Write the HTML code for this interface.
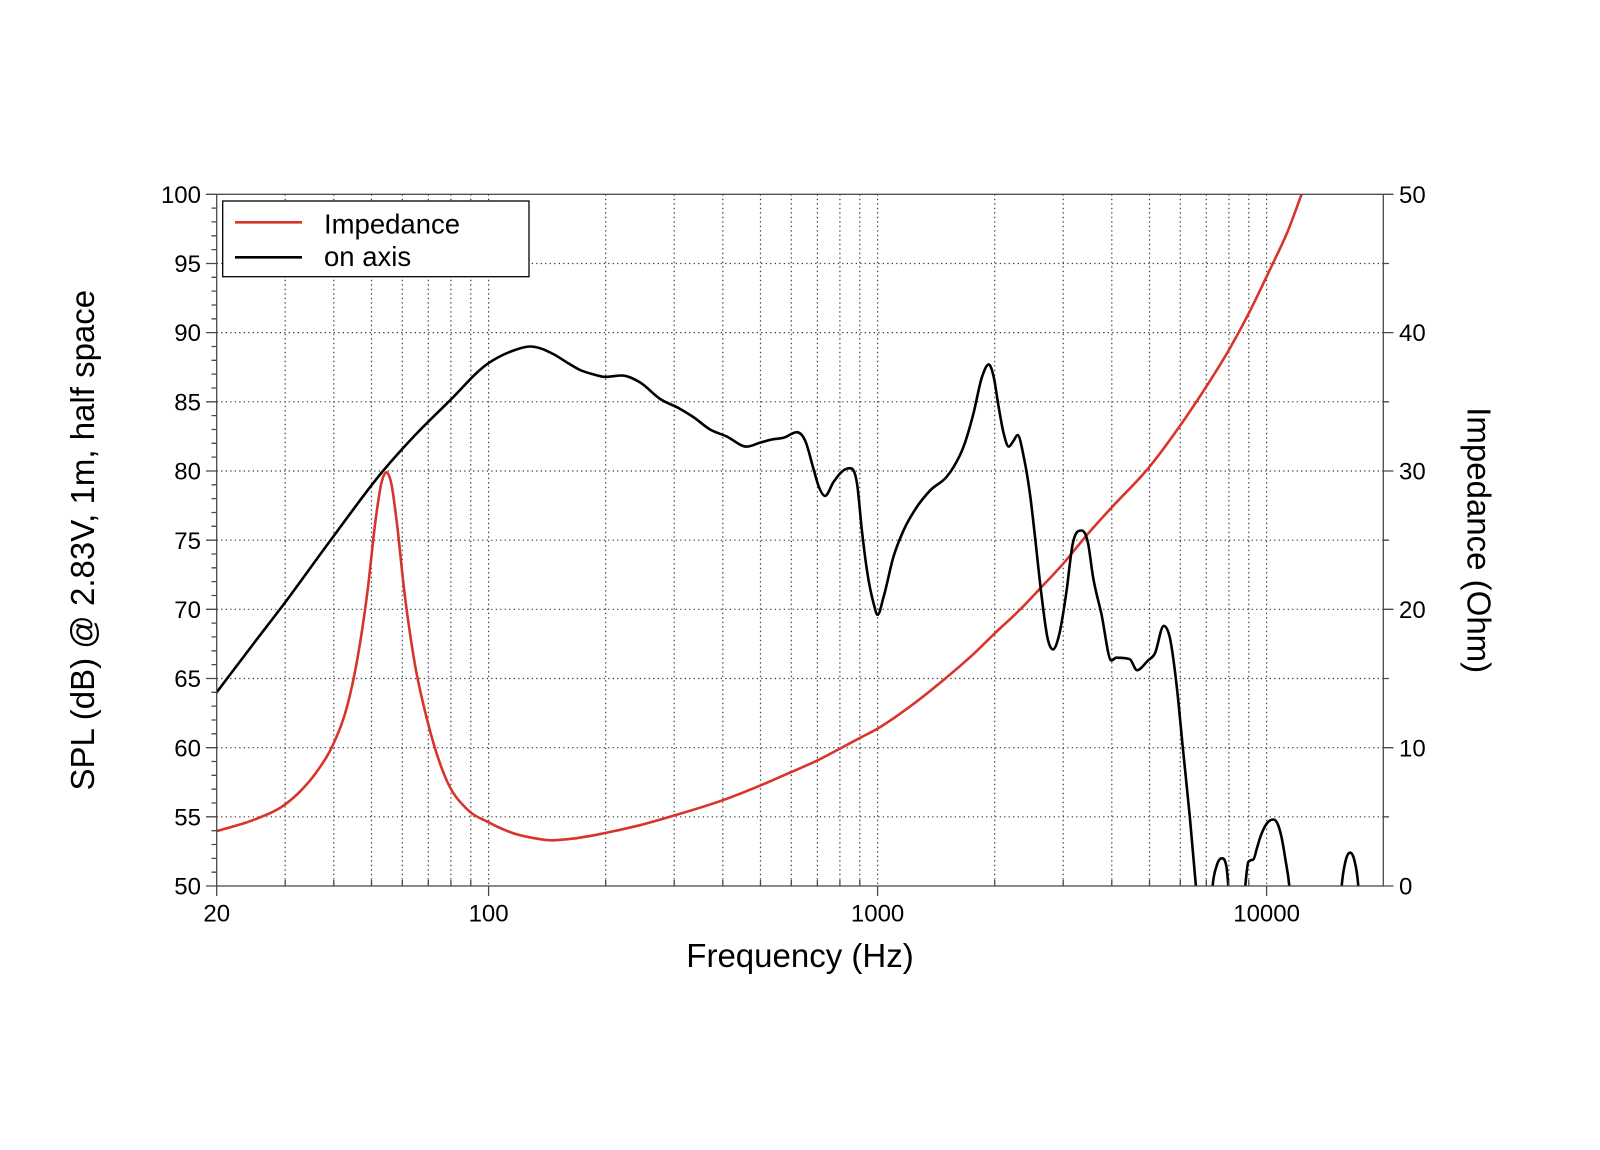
<!DOCTYPE html>
<html>
<head>
<meta charset="utf-8">
<style>
html,body{margin:0;padding:0;background:#fff}
svg{display:block}
text{font-family:"Liberation Sans",Arial,sans-serif;fill:#000}
</style>
</head>
<body>
<svg width="1600" height="1150" viewBox="0 0 1600 1150">
<rect x="0" y="0" width="1600" height="1150" fill="#fff"/>
<defs>
<clipPath id="pc"><rect x="216.7" y="194.3" width="1166.6" height="691.7"/></clipPath>
</defs>

<!-- grid -->
<path fill="none" stroke="#3a3a3a" stroke-width="1.2" stroke-dasharray="1.3 3.2"
d="M285.2 194.3V886M333.8 194.3V886M371.5 194.3V886M402.3 194.3V886M428.3 194.3V886M450.9 194.3V886M470.8 194.3V886M488.6 194.3V886
M605.7 194.3V886M674.2 194.3V886M722.8 194.3V886M760.5 194.3V886M791.3 194.3V886M817.4 194.3V886M839.9 194.3V886M859.8 194.3V886M877.6 194.3V886
M994.7 194.3V886M1063.2 194.3V886M1111.8 194.3V886M1149.5 194.3V886M1180.3 194.3V886M1206.3 194.3V886M1228.9 194.3V886M1248.8 194.3V886M1266.6 194.3V886
M216.7 816.8H1383.3M216.7 747.7H1383.3M216.7 678.5H1383.3M216.7 609.3H1383.3M216.7 540.2H1383.3M216.7 471.0H1383.3M216.7 401.8H1383.3M216.7 332.6H1383.3M216.7 263.5H1383.3"/>

<!-- curves -->
<g clip-path="url(#pc)" fill="none" stroke-width="2.6" stroke-linejoin="round" stroke-linecap="round">
<polyline id="red" stroke="#d9342b" points="216.7,831.1 254.4,819.6 285.2,804.4 301.3,790.2 316.9,771.5 333.8,743.0 347.2,706.1 357.0,661.0 367.7,589.6 375.5,520.7 381.4,483.0 386.4,472.4 391.2,483.0 396.6,520.7 404.0,588.6 414.0,659.1 427.4,720.8 446.9,780.9 466.8,809.0 488.6,822.3 516.6,834.3 535.0,838.3 551.4,840.3 573.2,838.6 605.7,832.9 642.1,824.6 674.2,815.5 722.8,800.2 760.5,785.4 791.3,772.0 817.4,760.4 839.9,748.6 859.8,738.0 877.6,728.6 909.6,706.8 945.3,678.5 974.0,653.6 994.7,633.4 1019.6,610.0 1040.4,588.2 1063.2,563.7 1086.4,535.6 1110.5,508.7 1149.5,466.8 1180.3,425.4 1206.3,386.6 1228.9,350.0 1248.8,313.3 1266.6,276.6 1275.0,259.0 1286.6,234.0 1301.6,194.3 1307.0,180"/>
<path id="redS" stroke="#d9342b" d=""/>
<polyline id="blk" stroke="#000" points="216.7,692.3 254.4,642.5 282.4,606.0 330.4,540.5 383.0,471.0 415.8,434.4 448.6,401.8 488.6,363.1 512.2,351.0 530.2,346.5 553.4,354.1 568.0,363.1 580.1,370.0 592.5,374.1 605.7,376.9 621.6,375.5 640.0,382.4 660.2,399.0 679.8,408.7 693.3,417.0 710.1,429.5 726.6,436.4 746.8,446.6 760.2,442.6 773.5,439.2 783.5,437.8 796.9,432.2 805.1,440.5 813.7,469.6 818.6,486.2 825.1,495.9 833.5,482.0 841.8,471.7 849.6,468.2 857.0,483.4 861.9,530.5 867.0,570.6 873.7,603.8 877.6,614.8 883.6,596.9 893.5,556.6 903.5,530.5 916.9,506.9 930.3,490.3 946.9,476.5 953.7,466.8 963.6,446.6 973.6,412.9 982.0,376.9 988.8,364.4 993.7,376.9 998.6,406.6 1003.7,433.6 1008.7,446.6 1013.7,440.5 1017.6,435.0 1023.8,457.1 1030.4,497.2 1034.6,533.2 1041.2,592.7 1047.9,639.7 1052.9,649.4 1059.6,632.8 1066.3,592.7 1072.9,542.9 1081.3,530.5 1088.0,542.9 1092.9,576.1 1101.3,613.4 1111.4,660.5 1116.3,657.7 1129.7,659.1 1137.0,670.2 1148.0,660.5 1154.8,653.6 1163.7,625.9 1169.7,637.0 1176.4,683.3 1183.1,750.6 1189.8,816.8 1195.9,886 1201.4,955 1206,1000 1209.5,930 1212.6,886 1216.6,866 1221.8,858.3 1226.5,867 1228.3,886 1231,930 1236,1000 1242,930 1245.3,886 1248.3,862 1253.3,859.5 1257,848 1260,838 1266.6,823.7 1273.5,819.5 1278.5,826 1281.7,838 1285.5,860 1289.3,886 1292.5,930 1310,1000 1335,1000 1339,930 1341.7,886 1345,863.5 1350,852.7 1354.3,860 1358.3,886 1361,930 1370,1000 1390,1000"/>
<path id="blkS" stroke="#000" d=""/>
</g>

<!-- frame -->
<rect x="216.7" y="194.3" width="1166.6" height="691.7" fill="none" stroke="#4a4a4a" stroke-width="1.3"/>

<!-- ticks -->
<path fill="none" stroke="#4a4a4a" stroke-width="1.3"
d="M206 886H216.7M206 816.8H216.7M206 747.7H216.7M206 678.5H216.7M206 609.3H216.7M206 540.2H216.7M206 471.0H216.7M206 401.8H216.7M206 332.6H216.7M206 263.5H216.7M206 194.3H216.7
M211.5 872.2H216.7M211.5 858.4H216.7M211.5 844.5H216.7M211.5 830.7H216.7
M211.5 803.0H216.7M211.5 789.2H216.7M211.5 775.3H216.7M211.5 761.5H216.7
M211.5 733.8H216.7M211.5 720.0H216.7M211.5 706.1H216.7M211.5 692.3H216.7
M211.5 664.6H216.7M211.5 650.8H216.7M211.5 636.9H216.7M211.5 623.1H216.7
M211.5 595.5H216.7M211.5 581.6H216.7M211.5 567.8H216.7M211.5 554.0H216.7
M211.5 526.3H216.7M211.5 512.5H216.7M211.5 498.6H216.7M211.5 484.8H216.7
M211.5 457.1H216.7M211.5 443.3H216.7M211.5 429.5H216.7M211.5 415.6H216.7
M211.5 388.0H216.7M211.5 374.1H216.7M211.5 360.3H216.7M211.5 346.5H216.7
M211.5 318.8H216.7M211.5 305.0H216.7M211.5 291.1H216.7M211.5 277.3H216.7
M211.5 249.6H216.7M211.5 235.8H216.7M211.5 221.9H216.7M211.5 208.1H216.7
M1383.3 886H1393.5M1383.3 747.7H1393.5M1383.3 609.3H1393.5M1383.3 471.0H1393.5M1383.3 332.6H1393.5M1383.3 194.3H1393.5
M1383.3 816.8H1389M1383.3 678.5H1389M1383.3 540.2H1389M1383.3 401.8H1389M1383.3 263.5H1389
M216.7 886V896M488.6 886V896M877.6 886V896M1266.6 886V896
M285.2 886V880M333.8 886V880M371.5 886V880M402.3 886V880M428.3 886V880M450.9 886V880M470.8 886V880
M605.7 886V880M674.2 886V880M722.8 886V880M760.5 886V880M791.3 886V880M817.4 886V880M839.9 886V880M859.8 886V880
M994.7 886V880M1063.2 886V880M1111.8 886V880M1149.5 886V880M1180.3 886V880M1206.3 886V880M1228.9 886V880M1248.8 886V880"/>

<!-- left tick labels -->
<g font-size="24" text-anchor="end">
<text x="201" y="202.9">100</text>
<text x="201" y="272.1">95</text>
<text x="201" y="341.2">90</text>
<text x="201" y="410.4">85</text>
<text x="201" y="479.6">80</text>
<text x="201" y="548.8">75</text>
<text x="201" y="617.9">70</text>
<text x="201" y="687.1">65</text>
<text x="201" y="756.3">60</text>
<text x="201" y="825.4">55</text>
<text x="201" y="894.6">50</text>
</g>
<!-- right tick labels -->
<g font-size="24" text-anchor="start">
<text x="1399" y="202.9">50</text>
<text x="1399" y="341.2">40</text>
<text x="1399" y="479.6">30</text>
<text x="1399" y="617.9">20</text>
<text x="1399" y="756.3">10</text>
<text x="1399" y="894.6">0</text>
</g>
<!-- bottom tick labels -->
<g font-size="24" text-anchor="middle">
<text x="216.7" y="921.5">20</text>
<text x="488.6" y="921.5">100</text>
<text x="877.6" y="921.5">1000</text>
<text x="1266.6" y="921.5">10000</text>
</g>

<!-- axis titles -->
<text x="800" y="967" font-size="33" text-anchor="middle">Frequency (Hz)</text>
<text transform="translate(94,540.2) rotate(-90)" font-size="33" text-anchor="middle">SPL (dB) @ 2.83V, 1m, half space</text>
<text transform="translate(1467.3,540.2) rotate(90)" font-size="33" text-anchor="middle">Impedance (Ohm)</text>

<!-- legend -->
<rect x="222.7" y="201" width="306.3" height="75.7" fill="#fff" stroke="#000" stroke-width="1.3"/>
<line x1="235" y1="222.3" x2="302" y2="222.3" stroke="#d9342b" stroke-width="2.6"/>
<line x1="235" y1="257.3" x2="302" y2="257.3" stroke="#000" stroke-width="2.6"/>
<text x="324" y="233.5" font-size="27.5">Impedance</text>
<text x="324" y="266" font-size="27.5">on axis</text>
</svg>
<script>
(function(){
function sm(id){
  var pl=document.getElementById(id);
  var tgt=document.getElementById(id+'S');
  if(!pl||!tgt)return;
  var a=pl.getAttribute('points').trim().split(/\s+/).map(function(s){var p=s.split(',');return [+p[0],+p[1]];});
  var n=a.length,m=[],t=[],i;
  for(i=0;i<n-1;i++)m[i]=(a[i+1][1]-a[i][1])/(a[i+1][0]-a[i][0]);
  t[0]=m[0];t[n-1]=m[n-2];
  for(i=1;i<n-1;i++){
    if(m[i-1]*m[i]<=0){t[i]=0;}
    else{var h0=a[i][0]-a[i-1][0],h1=a[i+1][0]-a[i][0];t[i]=(m[i-1]*h1+m[i]*h0)/(h0+h1);}
  }
  for(i=0;i<n-1;i++){
    if(m[i]===0){t[i]=0;t[i+1]=0;continue;}
    var al=t[i]/m[i],be=t[i+1]/m[i];
    if(al<0){t[i]=0;al=0;}
    if(be<0){t[i+1]=0;be=0;}
    var s=al*al+be*be;
    if(s>9){var tau=3/Math.sqrt(s);t[i]=tau*al*m[i];t[i+1]=tau*be*m[i];}
  }
  var d='M'+a[0][0]+','+a[0][1];
  for(i=0;i<n-1;i++){
    var h=(a[i+1][0]-a[i][0])/3;
    d+='C'+(a[i][0]+h).toFixed(2)+','+(a[i][1]+t[i]*h).toFixed(2)+' '+(a[i+1][0]-h).toFixed(2)+','+(a[i+1][1]-t[i+1]*h).toFixed(2)+' '+a[i+1][0]+','+a[i+1][1];
  }
  tgt.setAttribute('d',d);
  pl.style.display='none';
}
try{sm('red');sm('blk');}catch(e){}
})();
</script>
</body>
</html>
